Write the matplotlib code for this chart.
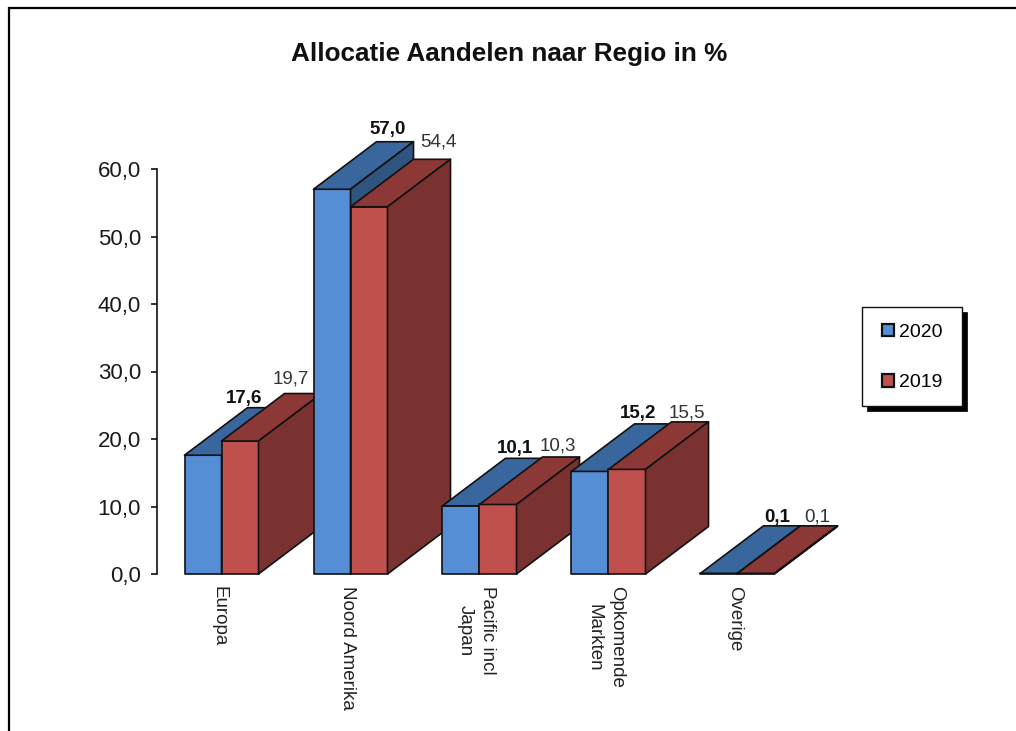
import matplotlib
matplotlib.use("Agg")
import matplotlib.pyplot as plt
from matplotlib.patches import Patch, Polygon, Rectangle

plt.rcParams['font.family'] = ['Liberation Sans', 'DejaVu Sans']

W, H = 1016, 731

regions = ["Europa", "Noord Amerika", "Pacific incl\nJapan", "Opkomende\nMarkten", "Overige"]
alloc_2020 = [17.6, 57.0, 10.1, 15.2, 0.1]
alloc_2019 = [19.7, 54.4, 10.3, 15.5, 0.1]
labels_2020 = ["17,6", "57,0", "10,1", "15,2", "0,1"]
labels_2019 = ["19,7", "54,4", "10,3", "15,5", "0,1"]
yticks = [0, 10, 20, 30, 40, 50, 60]
yticklabels = ["0,0", "10,0", "20,0", "30,0", "40,0", "50,0", "60,0"]

# label nudges in pixels, from the back edge of each bar top
shift_2020 = [(-22, 9), (-7, 12), (-9, 10), (-15, 10), (-5, 8)]
shift_2019 = [(-12, 15), (6, 17), (-3, 11), (-3, 9), (-2, 9)]

BAR_W = 37 / 129     # width of a single bar in category units
DEPTH_X = 63 / 129   # slant of the 3d effect
DEPTH_Y = 47.5 / 6.75

fig = plt.figure(figsize=(W / 100, H / 100), dpi=100)

# outer chart border, only left and top reach into view
fig.add_artist(plt.Line2D([9 / W, 9 / W, 1], [0, 1 - 8 / H, 1 - 8 / H],
                          color='k', lw=1.6, solid_joinstyle='miter',
                          transform=fig.transFigure))

ax = fig.add_axes([157 / W, 1 - 574 / H, 645 / W, 405 / H])
ax.set_xlim(-0.5, 4.5)
ax.set_ylim(0, 60)
ax.patch.set_visible(False)


def bar3d(x, v, front, top, side):
    x1 = x + BAR_W
    faces = [
        ([(x, 0), (x1, 0), (x1, v), (x, v)], front),
        ([(x, v), (x1, v), (x1 + DEPTH_X, v + DEPTH_Y), (x + DEPTH_X, v + DEPTH_Y)], top),
        ([(x1, 0), (x1 + DEPTH_X, DEPTH_Y), (x1 + DEPTH_X, v + DEPTH_Y), (x1, v)], side),
    ]
    for pts, c in faces:
        ax.add_patch(Polygon(pts, closed=True, facecolor=c, edgecolor='#111111',
                             lw=1.2, joinstyle='round', clip_on=False))


for i in range(len(regions)):
    bar3d(i - BAR_W, alloc_2020[i], '#558ED5', '#3A669E', '#2F5480')
    bar3d(i, alloc_2019[i], '#C0504D', '#8C3836', '#7A3230')

for i in range(len(regions)):
    ax.annotate(labels_2020[i], xy=(i - BAR_W / 2 + DEPTH_X, alloc_2020[i] + DEPTH_Y),
                xytext=shift_2020[i], textcoords='offset pixels', annotation_clip=False,
                ha='center', va='center', fontsize=13.5, fontweight='bold', color='#111111')
    ax.annotate(labels_2019[i], xy=(i + BAR_W / 2 + DEPTH_X, alloc_2019[i] + DEPTH_Y),
                xytext=shift_2019[i], textcoords='offset pixels', annotation_clip=False,
                ha='center', va='center', fontsize=13.5, color='#333333')

ax.spines[['top', 'right', 'bottom']].set_visible(False)
ax.spines['left'].set_color('#111111')
ax.spines['left'].set_linewidth(1.2)
ax.set_yticks(yticks)
ax.set_yticklabels(yticklabels, fontsize=16, color='#1a1a1a')
ax.tick_params(axis='y', length=4.5, width=1.2, color='#111111', pad=7)
ax.set_xticks(range(len(regions)))
ax.set_xticklabels(regions, rotation=270, ha='center', va='top', fontsize=13.5,
                   color='#222222', linespacing=1.45)
ax.tick_params(axis='x', length=0, pad=9)
# the rotated labels sit a little left of the category centres
for t in ax.get_xticklabels():
    t.set_transform(t.get_transform() + matplotlib.transforms.ScaledTranslation(-3 / 100, 0, fig.dpi_scale_trans))

fig.text(509.5 / W, 1 - 54 / H, "Allocatie Aandelen naar Regio in %",
         ha='center', va='center', fontsize=18.8, fontweight='bold', color='#111111')

# legend box with a hard drop shadow
fig.add_artist(Rectangle((867 / W, 1 - 411 / H), 100 / W, 99 / H, facecolor='k', edgecolor='k',
                         lw=0.5, transform=fig.transFigure, zorder=4))
fig.add_artist(Rectangle((862 / W, 1 - 406 / H), 100 / W, 99 / H, facecolor='white', edgecolor='#111111',
                         lw=1.0, transform=fig.transFigure, zorder=5))
handles = [Patch(facecolor='#558ED5', edgecolor='#111111', lw=1.6, label='2020'),
           Patch(facecolor='#C0504D', edgecolor='#111111', lw=1.6, label='2019')]
leg = fig.legend(handles=handles, loc='center', bbox_to_anchor=(912.5 / W, 1 - 357.5 / H),
                 bbox_transform=fig.transFigure, fontsize=14, frameon=False,
                 borderpad=0, labelspacing=1.72,
                 handlelength=0.6, handleheight=0.6, handletextpad=0.3)
leg.set_zorder(6)

fig.savefig("out.png", dpi=100)
